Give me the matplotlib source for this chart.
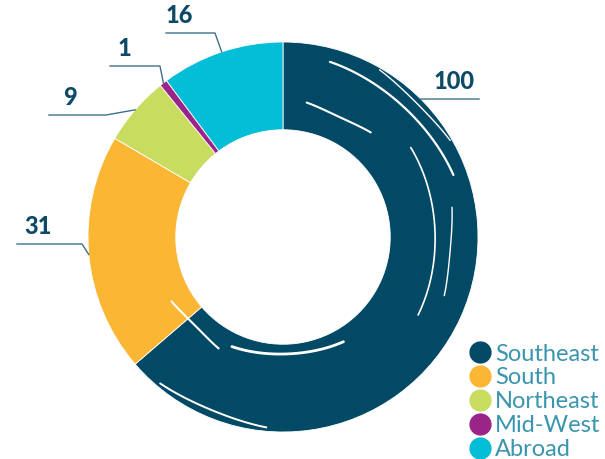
import numpy as np
import matplotlib.pyplot as plt
from matplotlib.lines import Line2D

regions = ["Southeast", "South", "Northeast", "Mid-West", "Abroad"]
counts = [100, 31, 9, 1, 16]
colors = ["#024965", "#fbb634", "#c8dc5f", "#9b2489", "#04bdd6"]

W, H = 605, 459
fig = plt.figure(figsize=(W / 100, H / 100), dpi=100)
ax = fig.add_axes([0, 0, 1, 1])

# work in pixel units, y measured from the top
def px(x, y):
    return x, H - y

cx, cy = px(283, 237)
r_out = 195
ring = 0.45

wedges, _ = ax.pie(counts, colors=colors, startangle=90, counterclock=False,
                   center=(cx, cy), radius=r_out,
                   wedgeprops=dict(width=r_out * ring, edgecolor="white", linewidth=0.6))

ax.set_xlim(0, W)
ax.set_ylim(0, H)
ax.set_aspect("equal")
ax.axis("off")

# a few brush streaks across the big segment
streaks = [(0.93, 20, 75, 1.6), (0.80, -30, 35, 1.2), (0.62, -115, -60, 2.0),
           (0.98, -130, -95, 1.4), (0.70, 50, 80, 1.5), (0.88, -20, 10, 1.0),
           (0.99, 30, 60, 1.0), (0.66, -150, -120, 1.5)]
for rf, a0, a1, lw in streaks:
    t = np.radians(np.linspace(a0, a1, 60))
    rr = r_out * (rf - 0.02 * np.sin(np.linspace(0, np.pi, 60)))
    ax.plot(cx + rr * np.cos(t), cy + rr * np.sin(t), color="white", lw=lw,
            solid_capstyle="round")

# leader lines: elbow, end of horizontal run, text left edge (pixel coords)
label_layout = {
    "Southeast": ((427, 99), (479, 99), 434),
    "South": ((82, 244), (17, 244), 24),
    "Northeast": ((106, 115), (49, 115), 63),
    "Mid-West": ((160, 66), (110, 66), 118),
    "Abroad": ((215, 33), (166, 33), 166),
}
line_c = "#3d7189"
text_c = "#0e4a68"
for w, name, n in zip(wedges, regions, counts):
    ang = 45 if name == "Southeast" else (w.theta1 + w.theta2) / 2
    ax_, ay_ = cx + r_out * np.cos(np.radians(ang)), cy + r_out * np.sin(np.radians(ang))
    (ex, ey), (hx, hy), tx = label_layout[name]
    ex, ey = px(ex, ey)
    hx, hy = px(hx, hy)
    ax.plot([ax_, ex, hx], [ay_, ey, hy], color=line_c, lw=1.0)
    ax.text(tx, ey + 6, str(n), fontsize=17, fontweight="black",
            family="Lato", color=text_c, ha="left", va="bottom")

handles = [Line2D([], [], marker="o", ls="", markersize=15, color=c) for c in colors]
leg = ax.legend(handles, regions, loc="lower right", bbox_to_anchor=(1.02, -0.038),
                frameon=False, handletextpad=0.15, labelspacing=0.12,
                prop=dict(family="Lato", size=17), labelcolor="#3a95ae",
                handlelength=1.0, borderaxespad=0.3)

fig.savefig("out.png", dpi=100)
